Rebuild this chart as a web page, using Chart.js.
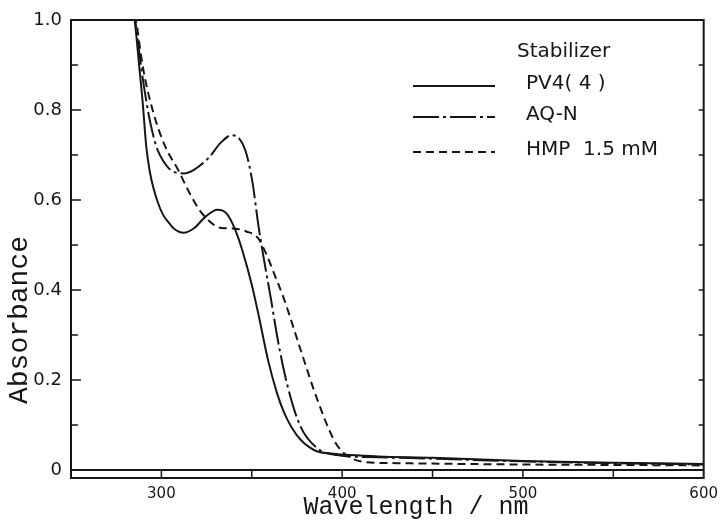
<!DOCTYPE html>
<html>
<head>
<meta charset="utf-8">
<script src="https://cdn.jsdelivr.net/npm/chart.js@4.4.1/dist/chart.umd.min.js"></script>
<style>
  body { margin: 0; background: #fff; }
  canvas { display: block; }
</style>
</head>
<body>
<canvas id="chart" width="725" height="525"></canvas>
<script>
// absorption spectra, values
const pv4Wl  = [283, 285.2, 287.9, 289.7, 291.6, 293.5, 295.5, 298, 300.8, 304, 307, 312.3, 318, 324.5, 331, 336, 340.7, 345, 349.8, 354, 359, 364, 368, 372, 377, 382, 386.3, 395, 404.5, 420, 450, 500, 550, 600];
const pv4Abs = [1.05, 1.0, 0.891, 0.815, 0.72, 0.665, 0.628, 0.595, 0.568, 0.55, 0.536, 0.527, 0.537, 0.563, 0.578, 0.57, 0.535, 0.485, 0.415, 0.34, 0.244, 0.17, 0.126, 0.095, 0.067, 0.05, 0.041, 0.036, 0.033, 0.03, 0.027, 0.02, 0.016, 0.013];

const aqnWl  = [284, 285.5, 289, 292.5, 295.2, 298, 300.7, 306, 312.5, 318, 326, 333, 339, 343, 346.5, 350.2, 353.8, 356.2, 360.7, 364.4, 369.9, 377, 386.3, 397.2, 420, 450, 500, 550, 600];
const aqnAbs = [1.04, 1.0, 0.89, 0.80, 0.748, 0.71, 0.689, 0.664, 0.659, 0.667, 0.693, 0.728, 0.744, 0.737, 0.71, 0.644, 0.54, 0.48, 0.378, 0.289, 0.185, 0.096, 0.048, 0.033, 0.028, 0.025, 0.019, 0.015, 0.012];

const hmpWl  = [284.5, 286, 290, 295.5, 302, 309.5, 315, 321, 326, 331, 336, 341, 347, 353.5, 358, 362, 368, 377, 386.3, 395.4, 401, 411.8, 430, 450, 500, 550, 600];
const hmpAbs = [1.04, 1.0, 0.89, 0.795, 0.72, 0.665, 0.62, 0.578, 0.555, 0.54, 0.537, 0.536, 0.53, 0.515, 0.48, 0.44, 0.378, 0.267, 0.156, 0.067, 0.037, 0.018, 0.015, 0.014, 0.012, 0.011, 0.01];

const seriesLabels = ['PV4( 4 )', 'AQ-N', 'HMP  1.5 mM'];
const legendTitle = 'Stabilizer';

const xTickValues = [250, 300, 350, 400, 450, 500, 550, 600];
const xTickLabels = ['', '300', '', '400', '', '500', '', '600'];
const yTickValues = [0, 0.1, 0.2, 0.3, 0.4, 0.5, 0.6, 0.7, 0.8, 0.9, 1.0];
const yTickLabels = ['0', '', '0.2', '', '0.4', '', '0.6', '', '0.8', '', '1.0'];

const toPoints = (xs, ys) => xs.map((v, i) => ({ x: v, y: ys[i] }));

const INK = '#161616';
const labelFont = '"DejaVu Sans", sans-serif';
const monoFont = '"Liberation Mono", "DejaVu Sans Mono", monospace';

// frame, inner ticks, zero line, axis titles and legend
const decorations = {
  id: 'decorations',
  afterDatasetsDraw(chart) {
    const { ctx, chartArea: a, scales: { x, y } } = chart;
    const y0 = y.getPixelForValue(0);
    ctx.save();
    ctx.strokeStyle = INK;
    ctx.lineWidth = 2;
    ctx.strokeRect(a.left, a.top, a.right - a.left, a.bottom - a.top);
    ctx.beginPath();
    ctx.moveTo(a.left, y0);
    ctx.lineTo(a.right, y0);
    ctx.stroke();

    ctx.lineWidth = 1.5;
    ctx.beginPath();
    x.ticks.forEach(t => {
      const px = x.getPixelForValue(t.value);
      if (px <= a.left + 1 || px >= a.right - 1) return;
      ctx.moveTo(px, y0);
      ctx.lineTo(px, a.bottom);
    });
    y.ticks.forEach(t => {
      if (t.value <= 0 || t.value >= 1) return;
      const py = y.getPixelForValue(t.value);
      const major = Math.round(t.value * 10) % 2 === 0;
      ctx.moveTo(a.left, py);
      ctx.lineTo(a.left + (major ? 10 : 7), py);
      ctx.moveTo(a.right, py);
      ctx.lineTo(a.right - 5, py);
    });
    ctx.stroke();

    // axis titles
    ctx.fillStyle = INK;
    ctx.font = '25px ' + monoFont;
    ctx.textAlign = 'center';
    ctx.textBaseline = 'middle';
    ctx.fillText('Wavelength / nm', 416, 507);
    ctx.save();
    ctx.translate(20, 320);
    ctx.rotate(-Math.PI / 2);
    ctx.font = '28px ' + monoFont;
    ctx.fillText('Absorbance', 0, 0);
    ctx.restore();

    // legend
    ctx.textAlign = 'left';
    ctx.textBaseline = 'alphabetic';
    ctx.font = '20px ' + labelFont;
    ctx.fillText(legendTitle, 517, 57);
    const rows = [86, 117, 152];
    chart.data.datasets.forEach((ds, i) => {
      ctx.beginPath();
      ctx.lineWidth = 2;
      ctx.setLineDash(ds.borderDash || []);
      ctx.moveTo(413, rows[i]);
      ctx.lineTo(495, rows[i]);
      ctx.stroke();
      ctx.setLineDash([]);
      ctx.fillText(ds.label, 526, rows[i] + 3);
    });
    ctx.restore();
  }
};

const lineStyle = {
  borderColor: INK,
  borderWidth: 2,
  pointRadius: 0,
  fill: false,
  cubicInterpolationMode: 'monotone'
};

new Chart(document.getElementById('chart'), {
  type: 'line',
  data: {
    datasets: [
      { ...lineStyle, label: seriesLabels[0], data: toPoints(pv4Wl, pv4Abs) },
      { ...lineStyle, label: seriesLabels[1], data: toPoints(aqnWl, aqnAbs), borderDash: [26, 4, 3, 4] },
      { ...lineStyle, label: seriesLabels[2], data: toPoints(hmpWl, hmpAbs), borderDash: [8, 5] }
    ]
  },
  options: {
    responsive: false,
    animation: false,
    layout: { padding: { top: 20, right: 17, left: 0, bottom: 0 } },
    plugins: {
      legend: { display: false },
      tooltip: { enabled: false }
    },
    scales: {
      x: {
        type: 'linear',
        min: 250,
        max: 600,
        grid: { display: false, drawTicks: false },
        border: { display: false },
        afterBuildTicks: s => { s.ticks = xTickValues.map(v => ({ value: v })); },
        afterFit: s => { s.height = 47; },
        ticks: {
          autoSkip: false,
          maxRotation: 0,
          padding: 7,
          color: INK,
          font: { family: labelFont, size: 15 },
          callback: (v, i) => xTickLabels[i]
        }
      },
      y: {
        min: -0.018,
        max: 1.0,
        grid: { display: false, drawTicks: false },
        border: { display: false },
        afterBuildTicks: s => { s.ticks = yTickValues.map(v => ({ value: v })); },
        afterFit: s => { s.width = 71; },
        ticks: {
          autoSkip: false,
          padding: 9,
          color: INK,
          font: { family: labelFont, size: 18 },
          callback: (v, i) => yTickLabels[i]
        }
      }
    }
  },
  plugins: [decorations]
});
</script>
</body>
</html>
